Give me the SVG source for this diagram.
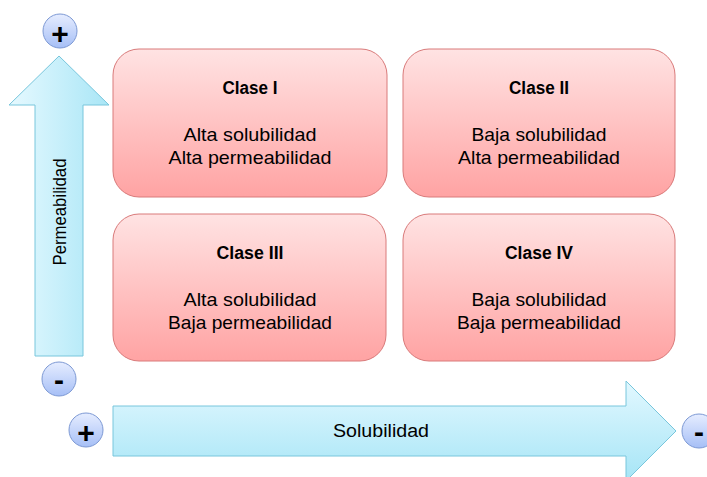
<svg xmlns="http://www.w3.org/2000/svg" width="707" height="477" viewBox="0 0 707 477">
  <defs>
    <linearGradient id="boxFill" x1="0" y1="0" x2="0" y2="1">
      <stop offset="0" stop-color="#ffe3e3"/>
      <stop offset="1" stop-color="#ffa3a3"/>
    </linearGradient>
    <linearGradient id="arrowV" x1="0" y1="0" x2="1" y2="0">
      <stop offset="0" stop-color="#e6f9ff"/>
      <stop offset="1" stop-color="#a9e6f6"/>
    </linearGradient>
    <linearGradient id="arrowH" x1="0" y1="0" x2="0" y2="1">
      <stop offset="0" stop-color="#e2f8ff"/>
      <stop offset="1" stop-color="#a6e5f6"/>
    </linearGradient>
    <linearGradient id="signFill" x1="0" y1="0" x2="0" y2="1">
      <stop offset="0" stop-color="#e6edff"/>
      <stop offset="1" stop-color="#a6bff6"/>
    </linearGradient>
  </defs>
  <style>
    .box { fill: url(#boxFill); stroke: #d97a7a; stroke-width: 1; }
    .arrow { stroke: #78c6dc; stroke-width: 1; }
    .sign { fill: url(#signFill); stroke: #7d99d4; stroke-width: 1; }
    .signtxt { font-family: "Liberation Sans", Arial, sans-serif; font-weight: bold; font-size: 30px; fill: #000; text-anchor: middle; }
    .title { font-family: "Liberation Sans", Arial, sans-serif; font-weight: bold; font-size: 18px; fill: #000; text-anchor: middle; }
    .body { font-family: "Liberation Sans", Arial, sans-serif; font-size: 18.5px; fill: #000; text-anchor: middle; }
    .axis { font-family: "Liberation Sans", Arial, sans-serif; font-size: 18px; fill: #000; text-anchor: middle; }
  </style>

  <!-- axis arrows -->
  <g id="connectors">
    <path class="arrow" fill="url(#arrowV)" d="M35,356 L35,105 L9,105 L59,56 L109,105 L83,105 L83,356 Z"/>
    <path class="arrow" fill="url(#arrowH)" d="M113,406 L626,406 L626,381 L676,431 L626,481 L626,456 L113,456 Z"/>
  </g>

  <g id="axis-permeabilidad">
    <text class="axis" transform="translate(66,212) rotate(-90)" textLength="107" lengthAdjust="spacingAndGlyphs">Permeabilidad</text>
  </g>
  <g id="axis-solubilidad">
    <text class="axis" x="381" y="437" textLength="96" lengthAdjust="spacingAndGlyphs">Solubilidad</text>
  </g>

  <!-- sign markers -->
  <g id="sign-perm-high">
    <circle class="sign" cx="60" cy="31" r="17"/>
    <text class="signtxt" x="60" y="44">+</text>
  </g>
  <g id="sign-perm-low">
    <circle class="sign" cx="59" cy="379" r="17"/>
    <text class="signtxt" x="59" y="390">-</text>
  </g>
  <g id="sign-sol-high">
    <circle class="sign" cx="86" cy="430" r="17"/>
    <text class="signtxt" x="86" y="443">+</text>
  </g>
  <g id="sign-sol-low">
    <circle class="sign" cx="699" cy="431" r="17"/>
    <text class="signtxt" x="699" y="442">-</text>
  </g>

  <!-- class boxes -->
  <g id="clase-1">
    <rect class="box" x="113" y="49" width="274" height="148" rx="26" ry="26"/>
    <text class="title" x="250" y="94" textLength="55" lengthAdjust="spacingAndGlyphs">Clase I</text>
    <text class="body" x="250" y="141" textLength="133" lengthAdjust="spacingAndGlyphs">Alta solubilidad</text>
    <text class="body" x="250" y="164" textLength="163" lengthAdjust="spacingAndGlyphs">Alta permeabilidad</text>
  </g>
  <g id="clase-2">
    <rect class="box" x="403" y="49" width="272" height="148" rx="26" ry="26"/>
    <text class="title" x="539" y="94" textLength="60" lengthAdjust="spacingAndGlyphs">Clase II</text>
    <text class="body" x="539" y="141" textLength="135" lengthAdjust="spacingAndGlyphs">Baja solubilidad</text>
    <text class="body" x="539" y="164" textLength="162" lengthAdjust="spacingAndGlyphs">Alta permeabilidad</text>
  </g>
  <g id="clase-3">
    <rect class="box" x="113" y="214" width="273" height="147" rx="26" ry="26"/>
    <text class="title" x="250" y="259" textLength="67" lengthAdjust="spacingAndGlyphs">Clase III</text>
    <text class="body" x="250" y="306" textLength="133" lengthAdjust="spacingAndGlyphs">Alta solubilidad</text>
    <text class="body" x="250" y="329" textLength="164" lengthAdjust="spacingAndGlyphs">Baja permeabilidad</text>
  </g>
  <g id="clase-4">
    <rect class="box" x="403" y="214" width="272" height="147" rx="26" ry="26"/>
    <text class="title" x="539" y="259" textLength="68" lengthAdjust="spacingAndGlyphs">Clase IV</text>
    <text class="body" x="539" y="306" textLength="135" lengthAdjust="spacingAndGlyphs">Baja solubilidad</text>
    <text class="body" x="539" y="329" textLength="164" lengthAdjust="spacingAndGlyphs">Baja permeabilidad</text>
  </g>
</svg>
